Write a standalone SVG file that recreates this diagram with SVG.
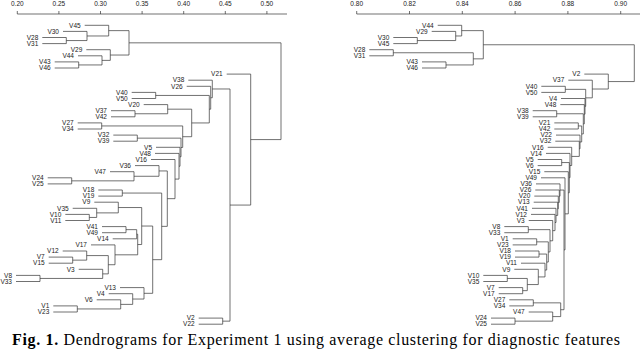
<svg xmlns="http://www.w3.org/2000/svg" width="640" height="349" viewBox="0 0 640 349">
<style>
.t{font-family:"Liberation Sans",Arial,sans-serif;font-size:6.5px;fill:#222;text-anchor:end}
.ax{font-family:"Liberation Sans",Arial,sans-serif;font-size:6.5px;fill:#222;text-anchor:middle}
.ln{fill:none;stroke:#333;stroke-width:0.7}
.cap{font-family:"Liberation Serif","Times New Roman",serif;font-size:16px;fill:#000}
</style>
<rect width="640" height="349" fill="#fff"/>
<g id="axis-left">
<path class="ln" d="M17.3 14H287M17.3 14V11M58.9 14V11M100.5 14V11M142.1 14V11M183.7 14V11M225.3 14V11M266.9 14V11"/>
<text class="ax" x="17.3" y="5.5">0.20</text><text class="ax" x="58.9" y="5.5">0.25</text><text class="ax" x="100.5" y="5.5">0.30</text><text class="ax" x="142.1" y="5.5">0.35</text><text class="ax" x="183.7" y="5.5">0.40</text><text class="ax" x="225.3" y="5.5">0.45</text><text class="ax" x="266.9" y="5.5">0.50</text>
</g>
<g id="axis-right">
<path class="ln" d="M356.7 14H640M356.7 14V11M409.5 14V11M462.3 14V11M515.1 14V11M567.9 14V11M620.7 14V11"/>
<text class="ax" x="356.7" y="5.5">0.80</text><text class="ax" x="409.5" y="5.5">0.82</text><text class="ax" x="462.3" y="5.5">0.84</text><text class="ax" x="515.1" y="5.5">0.86</text><text class="ax" x="567.9" y="5.5">0.88</text><text class="ax" x="620.7" y="5.5">0.90</text>
</g>
<g id="connectors-left" class="ln">
<path d="M42.3 37.5H66.3V43.6H42.3"/>
<path d="M63 31.4H87V40.55H66.3"/>
<path d="M84.7 25.3H108.7V35.98H87"/>
<path d="M54.7 61.9H78.7V68H54.7"/>
<path d="M78 55.8H102V64.95H78.7"/>
<path d="M86.3 49.7H110.3V60.38H102"/>
<path d="M108.7 30.64H129V55.04H110.3"/>
<path d="M131.7 92.4H155.7V98.5H131.7"/>
<path d="M111 110.7H135V116.8H111"/>
<path d="M143.7 104.6H167.7V113.75H135"/>
<path d="M77.7 122.9H101.7V129H77.7"/>
<path d="M113.3 135.1H137.3V141.2H113.3"/>
<path d="M47.7 177.8H71.7V183.9H47.7"/>
<path d="M110 171.7H134V180.85H71.7"/>
<path d="M135 165.6H159V176.28H134"/>
<path d="M98.3 190H122.3V196.1H98.3"/>
<path d="M65.3 214.4H89.3V220.5H65.3"/>
<path d="M72.7 208.3H96.7V217.45H89.3"/>
<path d="M94.3 202.2H118.3V212.88H96.7"/>
<path d="M102 226.6H126V232.7H102"/>
<path d="M126 229.65H136.7V238.8H112.7"/>
<path d="M48.7 257.1H72.7V263.2H48.7"/>
<path d="M62.7 251H86.7V260.15H72.7"/>
<path d="M16 275.4H40V281.5H16"/>
<path d="M78.7 269.3H102.7V278.45H40"/>
<path d="M86.7 255.58H108.3V273.88H102.7"/>
<path d="M91 244.9H115V264.73H108.3"/>
<path d="M136.7 234.23H137.7V254.82H115"/>
<path d="M118.3 207.54H141.7V244.53H137.7"/>
<path d="M53.3 305.9H77.3V312H53.3"/>
<path d="M96.7 299.8H120.7V308.95H77.3"/>
<path d="M108.7 293.7H132.7V304.38H120.7"/>
<path d="M120 287.6H144V299.04H132.7"/>
<path d="M141.7 226.04H152.7V293.32H144"/>
<path d="M122.3 193.05H161.7V259.68H152.7"/>
<path d="M159 170.94H167.3V226.37H161.7"/>
<path d="M151 159.5H175V198.66H167.3"/>
<path d="M155 153.4H179V179.08H175"/>
<path d="M156 147.3H180V166.24H179"/>
<path d="M137.3 138.15H181V156.77H180"/>
<path d="M101.7 125.95H182.7V147.46H181"/>
<path d="M167.7 109.18H191.7V136.71H182.7"/>
<path d="M155.7 95.45H209.3V122.95H191.7"/>
<path d="M186.7 86.3H210.7V109.2H209.3"/>
<path d="M188.3 80.2H212.3V97.75H210.7"/>
<path d="M198.7 318.1H222.7V324.2H198.7"/>
<path d="M212.3 88.98H230V321.15H222.7"/>
<path d="M226.7 74.1H250.7V205.07H230"/>
<path d="M129 42.84H281V139.59H250.7"/>
</g>
<g id="connectors-right" class="ln">
<path d="M393.3 37.5H417.3V43.6H393.3"/>
<path d="M431.7 31.4H455.7V40.55H417.3"/>
<path d="M437.7 25.3H461.7V35.98H455.7"/>
<path d="M369.3 49.7H393.3V55.8H369.3"/>
<path d="M422 61.9H446V68H422"/>
<path d="M393.3 52.75H473.3V64.95H446"/>
<path d="M461.7 30.64H483.3V58.85H473.3"/>
<path d="M541.3 86.3H565.3V92.4H541.3"/>
<path d="M532.7 110.7H556.7V116.8H532.7"/>
<path d="M554.3 122.9H578.3V129H554.3"/>
<path d="M537.7 159.5H561.7V165.6H537.7"/>
<path d="M483.3 275.4H507.3V281.5H483.3"/>
<path d="M498.7 287.6H522.7V293.7H498.7"/>
<path d="M507.3 278.45H527.3V290.65H522.7"/>
<path d="M514.3 269.3H538.3V284.55H527.3"/>
<path d="M521 263.2H545V276.93H538.3"/>
<path d="M515 251H539V257.1H515"/>
<path d="M539 254.05H546.7V270.06H545"/>
<path d="M512.7 238.8H536.7V244.9H512.7"/>
<path d="M536.7 241.85H548.3V262.06H546.7"/>
<path d="M504.3 226.6H528.3V232.7H504.3"/>
<path d="M528.3 229.65H550V251.96H548.3"/>
<path d="M528.7 220.5H552.7V240.8H550"/>
<path d="M531 214.4H555V230.65H552.7"/>
<path d="M532 208.3H556V222.53H555"/>
<path d="M533.7 202.2H557.7V215.41H556"/>
<path d="M534.3 196.1H558.3V208.8H557.7"/>
<path d="M535.3 190H559.3V202.45H558.3"/>
<path d="M536 183.9H560V196.23H559.3"/>
<path d="M509.3 299.8H533.3V305.9H509.3"/>
<path d="M491 318.1H515V324.2H491"/>
<path d="M528.7 312H552.7V321.15H515"/>
<path d="M533.3 302.85H560.7V316.58H552.7"/>
<path d="M560 190.06H564V309.71H560.7"/>
<path d="M541 177.8H565V249.89H564"/>
<path d="M544.3 171.7H568.3V213.85H565"/>
<path d="M561.7 162.55H569.3V192.78H568.3"/>
<path d="M546 153.4H570V177.66H569.3"/>
<path d="M547.7 147.3H571.7V165.53H570"/>
<path d="M555.3 141.2H579.3V156.42H571.7"/>
<path d="M556 135.1H580V148.81H579.3"/>
<path d="M578.3 125.95H581.7V141.96H580"/>
<path d="M556.7 113.75H583.3V133.96H581.7"/>
<path d="M560.3 104.6H584.3V123.86H583.3"/>
<path d="M561 98.5H585V114.23H584.3"/>
<path d="M565.3 89.35H585.7V106.37H585"/>
<path d="M568.3 80.2H592.3V97.86H585.7"/>
<path d="M584.3 74.1H608.3V89.03H592.3"/>
<path d="M483.3 44.75H634.3V81.57H608.3"/>
</g>
<g id="leaves-left" class="t" transform="translate(0,2.3)">
<g id="l-V45"><text x="80.7" y="25.3">V45</text></g>
<g id="l-V30"><text x="59" y="31.4">V30</text></g>
<g id="l-V28"><text x="38.3" y="37.5">V28</text></g>
<g id="l-V31"><text x="38.3" y="43.6">V31</text></g>
<g id="l-V29"><text x="82.3" y="49.7">V29</text></g>
<g id="l-V44"><text x="74" y="55.8">V44</text></g>
<g id="l-V43"><text x="50.7" y="61.9">V43</text></g>
<g id="l-V46"><text x="50.7" y="68">V46</text></g>
<g id="l-V21"><text x="222.7" y="74.1">V21</text></g>
<g id="l-V38"><text x="184.3" y="80.2">V38</text></g>
<g id="l-V26"><text x="182.7" y="86.3">V26</text></g>
<g id="l-V40"><text x="127.7" y="92.4">V40</text></g>
<g id="l-V50"><text x="127.7" y="98.5">V50</text></g>
<g id="l-V20"><text x="139.7" y="104.6">V20</text></g>
<g id="l-V37"><text x="107" y="110.7">V37</text></g>
<g id="l-V42"><text x="107" y="116.8">V42</text></g>
<g id="l-V27"><text x="73.7" y="122.9">V27</text></g>
<g id="l-V34"><text x="73.7" y="129">V34</text></g>
<g id="l-V32"><text x="109.3" y="135.1">V32</text></g>
<g id="l-V39"><text x="109.3" y="141.2">V39</text></g>
<g id="l-V5"><text x="152" y="147.3">V5</text></g>
<g id="l-V48"><text x="151" y="153.4">V48</text></g>
<g id="l-V16"><text x="147" y="159.5">V16</text></g>
<g id="l-V36"><text x="131" y="165.6">V36</text></g>
<g id="l-V47"><text x="106" y="171.7">V47</text></g>
<g id="l-V24"><text x="43.7" y="177.8">V24</text></g>
<g id="l-V25"><text x="43.7" y="183.9">V25</text></g>
<g id="l-V18"><text x="94.3" y="190">V18</text></g>
<g id="l-V19"><text x="94.3" y="196.1">V19</text></g>
<g id="l-V9"><text x="90.3" y="202.2">V9</text></g>
<g id="l-V35"><text x="68.7" y="208.3">V35</text></g>
<g id="l-V10"><text x="61.3" y="214.4">V10</text></g>
<g id="l-V11"><text x="61.3" y="220.5">V11</text></g>
<g id="l-V41"><text x="98" y="226.6">V41</text></g>
<g id="l-V49"><text x="98" y="232.7">V49</text></g>
<g id="l-V14"><text x="108.7" y="238.8">V14</text></g>
<g id="l-V17"><text x="87" y="244.9">V17</text></g>
<g id="l-V12"><text x="58.7" y="251">V12</text></g>
<g id="l-V7"><text x="44.7" y="257.1">V7</text></g>
<g id="l-V15"><text x="44.7" y="263.2">V15</text></g>
<g id="l-V3"><text x="74.7" y="269.3">V3</text></g>
<g id="l-V8"><text x="12" y="275.4">V8</text></g>
<g id="l-V33"><text x="12" y="281.5">V33</text></g>
<g id="l-V13"><text x="116" y="287.6">V13</text></g>
<g id="l-V4"><text x="104.7" y="293.7">V4</text></g>
<g id="l-V6"><text x="92.7" y="299.8">V6</text></g>
<g id="l-V1"><text x="49.3" y="305.9">V1</text></g>
<g id="l-V23"><text x="49.3" y="312">V23</text></g>
<g id="l-V2"><text x="194.7" y="318.1">V2</text></g>
<g id="l-V22"><text x="194.7" y="324.2">V22</text></g>
</g>
<g id="leaves-right" class="t" transform="translate(0,2.3)">
<g id="r-V44"><text x="433.7" y="25.3">V44</text></g>
<g id="r-V29"><text x="427.7" y="31.4">V29</text></g>
<g id="r-V30"><text x="389.3" y="37.5">V30</text></g>
<g id="r-V45"><text x="389.3" y="43.6">V45</text></g>
<g id="r-V28"><text x="365.3" y="49.7">V28</text></g>
<g id="r-V31"><text x="365.3" y="55.8">V31</text></g>
<g id="r-V43"><text x="418" y="61.9">V43</text></g>
<g id="r-V46"><text x="418" y="68">V46</text></g>
<g id="r-V2"><text x="580.3" y="74.1">V2</text></g>
<g id="r-V37"><text x="564.3" y="80.2">V37</text></g>
<g id="r-V40"><text x="537.3" y="86.3">V40</text></g>
<g id="r-V50"><text x="537.3" y="92.4">V50</text></g>
<g id="r-V4"><text x="557" y="98.5">V4</text></g>
<g id="r-V48"><text x="556.3" y="104.6">V48</text></g>
<g id="r-V38"><text x="528.7" y="110.7">V38</text></g>
<g id="r-V39"><text x="528.7" y="116.8">V39</text></g>
<g id="r-V21"><text x="550.3" y="122.9">V21</text></g>
<g id="r-V42"><text x="550.3" y="129">V42</text></g>
<g id="r-V22"><text x="552" y="135.1">V22</text></g>
<g id="r-V32"><text x="551.3" y="141.2">V32</text></g>
<g id="r-V16"><text x="543.7" y="147.3">V16</text></g>
<g id="r-V14"><text x="542" y="153.4">V14</text></g>
<g id="r-V5"><text x="533.7" y="159.5">V5</text></g>
<g id="r-V6"><text x="533.7" y="165.6">V6</text></g>
<g id="r-V15"><text x="540.3" y="171.7">V15</text></g>
<g id="r-V49"><text x="537" y="177.8">V49</text></g>
<g id="r-V36"><text x="532" y="183.9">V36</text></g>
<g id="r-V26"><text x="531.3" y="190">V26</text></g>
<g id="r-V20"><text x="530.3" y="196.1">V20</text></g>
<g id="r-V13"><text x="529.7" y="202.2">V13</text></g>
<g id="r-V41"><text x="528" y="208.3">V41</text></g>
<g id="r-V12"><text x="527" y="214.4">V12</text></g>
<g id="r-V3"><text x="524.7" y="220.5">V3</text></g>
<g id="r-V8"><text x="500.3" y="226.6">V8</text></g>
<g id="r-V33"><text x="500.3" y="232.7">V33</text></g>
<g id="r-V1"><text x="508.7" y="238.8">V1</text></g>
<g id="r-V23"><text x="508.7" y="244.9">V23</text></g>
<g id="r-V18"><text x="511" y="251">V18</text></g>
<g id="r-V19"><text x="511" y="257.1">V19</text></g>
<g id="r-V11"><text x="517" y="263.2">V11</text></g>
<g id="r-V9"><text x="510.3" y="269.3">V9</text></g>
<g id="r-V10"><text x="479.3" y="275.4">V10</text></g>
<g id="r-V35"><text x="479.3" y="281.5">V35</text></g>
<g id="r-V7"><text x="494.7" y="287.6">V7</text></g>
<g id="r-V17"><text x="494.7" y="293.7">V17</text></g>
<g id="r-V27"><text x="505.3" y="299.8">V27</text></g>
<g id="r-V34"><text x="505.3" y="305.9">V34</text></g>
<g id="r-V47"><text x="524.7" y="312">V47</text></g>
<g id="r-V24"><text x="487" y="318.1">V24</text></g>
<g id="r-V25"><text x="487" y="324.2">V25</text></g>
</g>
<text class="cap" x="12" y="345" textLength="608" lengthAdjust="spacing"><tspan font-weight="bold">Fig. 1.</tspan> Dendrograms for Experiment 1 using average clustering for diagnostic features</text>
</svg>
